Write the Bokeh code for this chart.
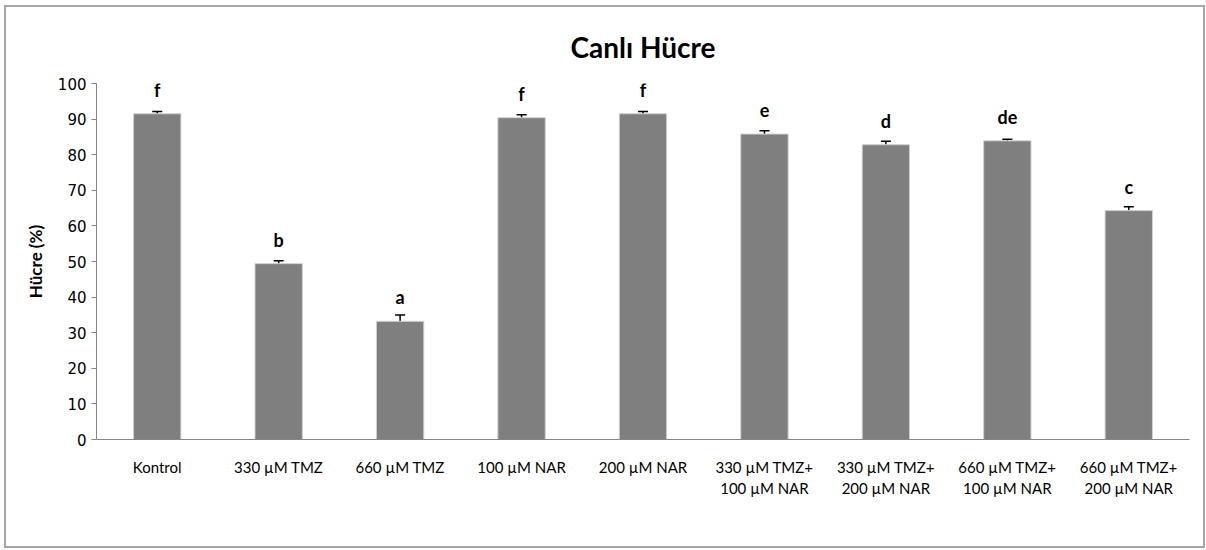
from bokeh.plotting import figure
from bokeh.models import ColumnDataSource, Whisker, TeeHead, FactorRange, Range1d, FixedTicker
from bokeh.core.properties import value
from bokeh.embed import file_html
from bokeh.resources import INLINE

categories = ["Kontrol", "330 \u00b5M TMZ", "660 \u00b5M TMZ", "100 \u00b5M NAR", "200 \u00b5M NAR",
              "330 \u00b5M TMZ+\n100 \u00b5M NAR", "330 \u00b5M TMZ+\n200 \u00b5M NAR",
              "660 \u00b5M TMZ+\n100 \u00b5M NAR", "660 \u00b5M TMZ+\n200 \u00b5M NAR"]
values = [91.5, 49.4, 33.2, 90.4, 91.5, 85.8, 82.8, 83.9, 64.3]
errors = [0.6, 0.8, 1.8, 0.8, 0.6, 0.9, 1.0, 0.45, 1.1]
letters = ["f", "b", "a", "f", "f", "e", "d", "de", "c"]
yticks = [0, 10, 20, 30, 40, 50, 60, 70, 80, 90, 100]

src = ColumnDataSource(dict(
    x=categories, top=values, letters=letters,
    upper=[v + e for v, e in zip(values, errors)],
    lower=[v - e for v, e in zip(values, errors)],
))

p = figure(x_range=FactorRange(factors=categories, range_padding=0), y_range=Range1d(0, 100),
           width=1201, height=543, output_backend="svg", toolbar_location=None,
           min_border_left=90, min_border_right=18, min_border_top=74, min_border_bottom=111)
p.styles = {"border": "2px solid #a6a6a6", "margin-left": "4px", "margin-top": "5px"}

p.title.text = "Canl\u0131 H\u00fccre"
p.title.align = "center"
p.title.text_font = "Lato"
p.title.text_font_size = "28px"
p.title.text_font_style = "bold"
p.title.text_color = "black"
p.title.standoff = 40

p.vbar(x="x", top="top", width=0.39, source=src, fill_color="#7f7f7f", line_color="#d0d0d0", line_width=1)

p.add_layout(Whisker(base="x", upper="upper", lower="lower", source=src, line_color="black", line_width=1.5,
                     upper_head=TeeHead(size=10, line_color="black", line_width=1.5),
                     lower_head=TeeHead(size=10, line_color="black", line_width=1.5)))

p.text(x="x", y="top", text="letters", source=src, text_align="center", text_baseline="alphabetic",
       y_offset=-24, text_font=value("Lato"), text_font_style="bold", text_font_size="18px", text_color="black")

p.xgrid.visible = False
p.ygrid.visible = False
p.outline_line_color = None

p.yaxis.ticker = FixedTicker(ticks=yticks)
p.yaxis.minor_tick_line_color = None
p.yaxis.major_tick_out = 5
p.yaxis.major_tick_in = 0
p.yaxis.axis_line_color = "#868686"
p.yaxis.major_tick_line_color = "#868686"
p.yaxis.major_label_text_font = "DejaVu Sans"
p.yaxis.major_label_text_font_size = "15px"
p.yaxis.major_label_text_color = "black"
p.yaxis.axis_label = "H\u00fccre (%)"
p.yaxis.axis_label_text_font = "Lato"
p.yaxis.axis_label_text_font_style = "bold"
p.yaxis.axis_label_text_font_size = "17px"
p.yaxis.axis_label_text_color = "black"
p.yaxis.axis_label_standoff = 9

p.xaxis.major_tick_line_color = None
p.xaxis.minor_tick_line_color = None
p.xaxis.axis_line_color = "#868686"
p.xaxis.major_label_text_font = "Lato"
p.xaxis.major_label_text_font_size = "15px"
p.xaxis.major_label_text_color = "black"
p.xaxis.major_label_standoff = 12

open("out.html", "w").write(file_html(p, INLINE))
